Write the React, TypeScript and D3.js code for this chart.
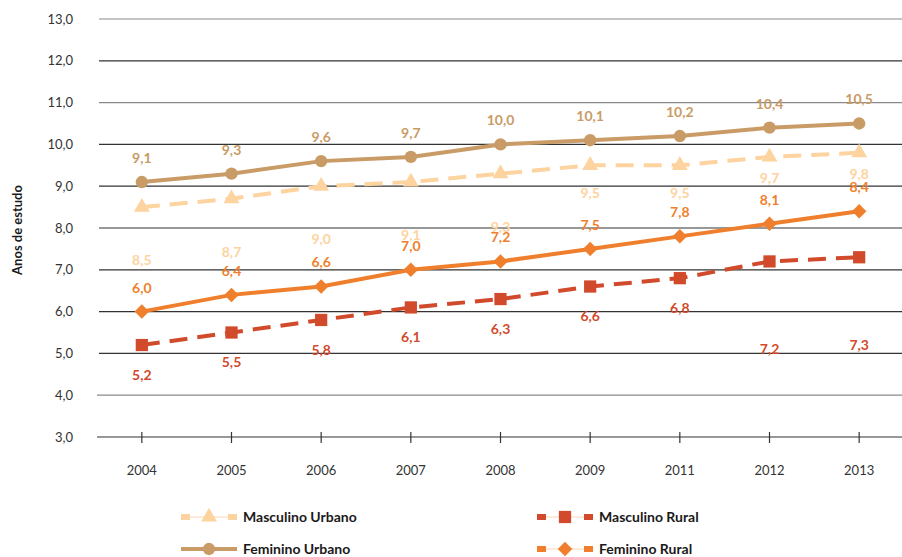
import React, { useEffect, useRef } from "react";
import * as d3 from "d3";

// Chart data
const years = ["2004", "2005", "2006", "2007", "2008", "2009", "2011", "2012", "2013"];
const masculinoUrbano = [8.5, 8.7, 9.0, 9.1, 9.3, 9.5, 9.5, 9.7, 9.8];
const femininoUrbano = [9.1, 9.3, 9.6, 9.7, 10.0, 10.1, 10.2, 10.4, 10.5];
const masculinoRural = [5.2, 5.5, 5.8, 6.1, 6.3, 6.6, 6.8, 7.2, 7.3];
const femininoRural = [6.0, 6.4, 6.6, 7.0, 7.2, 7.5, 7.8, 8.1, 8.4];
const yTicks = [3, 4, 5, 6, 7, 8, 9, 10, 11, 12, 13];

const App = () => {
  const svgRef = useRef<SVGSVGElement | null>(null);

  useEffect(() => {
    const width = 902;
    const height = 557;
    const left = 97;
    const right = 904;
    const top = 19;
    const bottom = 437;
    const font = "Lato, 'Open Sans', sans-serif";
    const fmt = (d: number) => d3.format(".1f")(d).replace(".", ",");

    const svg = d3.select(svgRef.current)
      .attr("width", width)
      .attr("height", height);
    svg.selectAll("*").remove();

    const x = d3.scaleBand().domain(years).range([left, right]);
    const y = d3.scaleLinear().domain([3, 13]).range([bottom, top]);
    const cx = (d: string) => (x(d) as number) + x.bandwidth() / 2;

    // Gridlines
    svg.append("g")
      .selectAll("line")
      .data(yTicks)
      .join("line")
      .attr("x1", (d) => (d === 3 || d === 4 ? left : left + 2))
      .attr("x2", width)
      .attr("y1", (d) => y(d))
      .attr("y2", (d) => y(d))
      .attr("stroke", (d) => (d === 13 || d === 11 || d === 4 ? "#8a8a8a" : "#333"))
      .attr("stroke-width", 1.2);

    // Y tick labels
    svg.append("g")
      .selectAll("text")
      .data(yTicks)
      .join("text")
      .attr("x", 73)
      .attr("y", (d) => y(d))
      .attr("dy", "0.35em")
      .attr("text-anchor", "end")
      .attr("font-family", font)
      .attr("font-size", 13)
      .attr("fill", "#333")
      .text(fmt);

    // X axis ticks and labels
    const xAxis = svg.append("g");
    xAxis.selectAll("line")
      .data(years)
      .join("line")
      .attr("x1", cx)
      .attr("x2", cx)
      .attr("y1", bottom - 5)
      .attr("y2", bottom + 6)
      .attr("stroke", "#333")
      .attr("stroke-width", 1.2);
    xAxis.selectAll("text")
      .data(years)
      .join("text")
      .attr("x", cx)
      .attr("y", 470)
      .attr("dy", "0.35em")
      .attr("text-anchor", "middle")
      .attr("font-family", font)
      .attr("font-size", 13)
      .attr("fill", "#333")
      .text((d) => d);

    // Y axis title
    svg.append("text")
      .attr("transform", "translate(22,230) rotate(-90)")
      .attr("text-anchor", "middle")
      .attr("font-family", font)
      .attr("font-weight", "bold")
      .attr("font-size", 13)
      .attr("fill", "#1a1a1a")
      .text("Anos de estudo");

    // label offsets: some labels were pushed further away in the original to avoid collisions
    const series = [
      { name: "Masculino Urbano", values: masculinoUrbano, color: "#FDD3A0", dash: "18,10", marker: d3.symbolTriangle, size: 110, rot: 0, labelDy: (i: number) => (i < 5 ? 53 : i < 7 ? 28 : 21) },
      { name: "Feminino Urbano", values: femininoUrbano, color: "#C99B66", dash: null, marker: d3.symbolCircle, size: 120, rot: 0, labelDy: () => -24 },
      { name: "Masculino Rural", values: masculinoRural, color: "#D14A2B", dash: "18,10", marker: d3.symbolSquare, size: 150, rot: 0, labelDy: (i: number) => (i < 7 ? 30 : 88) },
      { name: "Feminino Rural", values: femininoRural, color: "#EF7F2C", dash: null, marker: d3.symbolSquare, size: 105, rot: 45, labelDy: () => -24 },
    ];

    const line = d3.line<number>()
      .x((_, i) => cx(years[i]))
      .y((d) => y(d));

    series.forEach((s) => {
      const g = svg.append("g");
      g.append("path")
        .attr("d", line(s.values))
        .attr("fill", "none")
        .attr("stroke", s.color)
        .attr("stroke-width", 4)
        .attr("stroke-dasharray", s.dash);
      g.selectAll("path.mark")
        .data(s.values)
        .join("path")
        .attr("class", "mark")
        .attr("d", d3.symbol().type(s.marker).size(s.size))
        .attr("transform", (d, i) => `translate(${cx(years[i])},${y(d)}) rotate(${s.rot})`)
        .attr("fill", s.color);
      g.selectAll("text")
        .data(s.values)
        .join("text")
        .attr("x", (_, i) => cx(years[i]))
        .attr("y", (d, i) => y(d) + s.labelDy(i))
        .attr("dy", "0.35em")
        .attr("text-anchor", "middle")
        .attr("font-family", font)
        .attr("font-weight", "bold")
        .attr("font-size", 14)
        .attr("fill", s.color)
        .text(fmt);
    });

    // Legend
    const legendPos = [
      { x: 181, y: 517 },
      { x: 181, y: 549 },
      { x: 537, y: 517 },
      { x: 537, y: 549 },
    ];
    series.forEach((s, i) => {
      const p = legendPos[i];
      const g = svg.append("g").attr("transform", `translate(${p.x},${p.y})`);
      if (i !== 1) {
        g.append("line")
          .attr("x1", 0).attr("x2", 56)
          .attr("stroke", "#FCE3CC").attr("stroke-width", 1.5);
        g.append("rect").attr("x", 0).attr("y", -3).attr("width", 9).attr("height", 6).attr("fill", s.color);
        g.append("rect").attr("x", 47).attr("y", -3).attr("width", 9).attr("height", 6).attr("fill", s.color);
      } else {
        g.append("line")
          .attr("x1", 0).attr("x2", 56)
          .attr("stroke", s.color).attr("stroke-width", 4);
      }
      g.append("path")
        .attr("d", d3.symbol().type(s.marker).size(s.size)())
        .attr("transform", `translate(28,0) rotate(${s.rot})`)
        .attr("fill", s.color);
      g.append("text")
        .attr("x", 62)
        .attr("dy", "0.35em")
        .attr("font-family", font)
        .attr("font-weight", "bold")
        .attr("font-size", 14)
        .attr("fill", "#1a1a1a")
        .text(s.name);
    });
  }, []);

  return <svg ref={svgRef} style={{ position: "absolute", left: 0, top: 0 }}></svg>;
};

export default App;
